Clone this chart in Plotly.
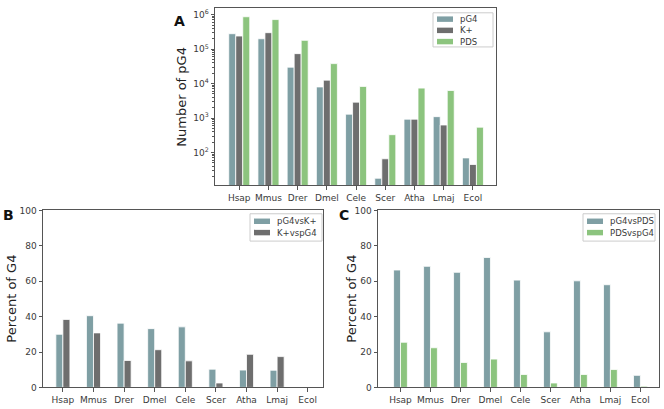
import plotly.graph_objects as go

categories = ["Hsap", "Mmus", "Drer", "Dmel", "Cele", "Scer", "Atha", "Lmaj", "Ecol"]

# Panel A: number of pG4 (log scale)
pg4_counts = [280000, 200000, 30000, 8000, 1300, 18, 930, 1100, 70]
kplus_counts = [240000, 300000, 74000, 12600, 2900, 66, 930, 630, 45]
pds_counts = [870000, 720000, 180000, 38000, 8300, 330, 7400, 6300, 545]

# Panel B: percent overlap pG4 / K+
pg4_vs_k = [30.0, 40.5, 36.3, 33.2, 34.2, 10.3, 9.8, 9.7, 0.0]
k_vs_pg4 = [38.4, 30.8, 15.2, 21.3, 15.0, 2.5, 18.7, 17.4, 0.0]

# Panel C: percent overlap pG4 / PDS
pg4_vs_pds = [66.3, 68.4, 65.0, 73.4, 60.6, 31.4, 60.2, 58.0, 6.8]
pds_vs_pg4 = [25.5, 22.4, 14.1, 16.0, 7.3, 2.5, 7.3, 10.1, 0.7]

legend_a = ["pG4", "K+", "PDS"]
legend_b = ["pG4vsK+", "K+vspG4"]
legend_c = ["pG4vsPDS", "PDSvspG4"]

log_ticks = [100, 1000, 10000, 100000, 1000000]
log_tick_text = ["10<sup>2</sup>", "10<sup>3</sup>", "10<sup>4</sup>", "10<sup>5</sup>", "10<sup>6</sup>"]
pct_ticks = [0, 20, 40, 60, 80, 100]

C_PG4 = "#7F9FA4"
C_K = "#6E6E6E"
C_PDS = "#8CC47E"
FONT = "DejaVu Sans"
TXT = "#3A3A3A"
SPINE = "#555555"

W, H = 664, 409

def px_x(a, b):
    return [a / W, b / W]

def px_y(top, bottom):
    return [1 - bottom / H, 1 - top / H]

fig = go.Figure()

def add_bar(x, y, name, color, xa, ya, width, offset):
    fig.add_trace(go.Bar(
        x=x, y=y, name=name, xaxis=xa, yaxis=ya, width=width, offset=offset,
        marker=dict(color=color, line=dict(color="white", width=0.8)),
        showlegend=False,
    ))

wA = 0.24
add_bar(categories, pg4_counts, legend_a[0], C_PG4, "x", "y", wA, -1.5 * wA)
add_bar(categories, kplus_counts, legend_a[1], C_K, "x", "y", wA, -0.5 * wA)
add_bar(categories, pds_counts, legend_a[2], C_PDS, "x", "y", wA, 0.5 * wA)

wB = 0.23
add_bar(categories, pg4_vs_k, legend_b[0], C_PG4, "x2", "y2", wB, -wB)
add_bar(categories, k_vs_pg4, legend_b[1], C_K, "x2", "y2", wB, 0)
add_bar(categories, pg4_vs_pds, legend_c[0], C_PG4, "x3", "y3", wB, -wB)
add_bar(categories, pds_vs_pg4, legend_c[1], C_PDS, "x3", "y3", wB, 0)

axis_common = dict(
    showline=True, linecolor=SPINE, linewidth=1, mirror=True,
    ticks="outside", ticklen=3.5, tickwidth=0.8, tickcolor=SPINE,
    showgrid=False, zeroline=False, tickangle=0,
    tickfont=dict(family=FONT, size=9, color=TXT),
)

minor_vals = []
for e in range(1, 7):
    for m in range(2, 10):
        minor_vals.append(m * 10 ** e)

fig.update_layout(
    width=W, height=H,
    margin=dict(l=0, r=0, t=0, b=0),
    paper_bgcolor="white", plot_bgcolor="white",
    barmode="overlay", showlegend=False,
    font=dict(family=FONT, color=TXT),
    xaxis=dict(domain=px_x(215, 496), anchor="y", type="category",
               range=[-0.83, 8.79], **axis_common),
    yaxis=dict(domain=px_y(3, 185), anchor="x", type="log",
               range=[1.045, 6.195], tickvals=log_ticks, ticktext=log_tick_text,
               minor=dict(tickvals=minor_vals, ticks="outside", ticklen=2,
                          tickcolor=SPINE, tickwidth=0.6, showgrid=False),
               **axis_common),
    xaxis2=dict(domain=px_x(43, 323), anchor="y2", type="category",
                range=[-0.65, 8.5], **axis_common),
    yaxis2=dict(domain=px_y(210.5, 392), anchor="x2", range=[0, 100],
                tickvals=pct_ticks, **axis_common),
    xaxis3=dict(domain=px_x(378, 659), anchor="y3", type="category",
                range=[-0.75, 8.62], **axis_common),
    yaxis3=dict(domain=px_y(210.5, 392), anchor="x3", range=[0, 100],
                tickvals=pct_ticks, **axis_common),
)

# Manual legends (matplotlib-style flat patches)
def draw_legend(box, names, colors, first_y, step, patch_x, text_x):
    x0, y0, x1, y1 = box
    fig.add_shape(type="rect", xref="paper", yref="paper",
                  x0=x0 / W, x1=x1 / W, y0=1 - y1 / H, y1=1 - y0 / H,
                  line=dict(color="#CCCCCC", width=1), fillcolor="white", layer="above")
    for i, (n, c) in enumerate(zip(names, colors)):
        yc = first_y + i * step
        fig.add_shape(type="rect", xref="paper", yref="paper",
                      x0=patch_x[0] / W, x1=patch_x[1] / W,
                      y0=1 - (yc + 2.8) / H, y1=1 - (yc - 2.8) / H,
                      line=dict(width=0), fillcolor=c, layer="above")
        fig.add_annotation(text=n, x=text_x / W, y=1 - yc / H, xref="paper", yref="paper",
                           showarrow=False, xanchor="left", yanchor="middle",
                           font=dict(family=FONT, size=8.5, color=TXT))

draw_legend((433, 8, 493, 43), legend_a, [C_PG4, C_K, C_PDS], 14.5, 11.5, (437, 453), 458)
draw_legend((250, 214, 322, 242), legend_b, [C_PG4, C_K], 221.7, 11.6, (254, 270), 275)
draw_legend((583, 214, 655, 242), legend_c, [C_PG4, C_PDS], 221.7, 11.6, (587, 603), 608)

annots = [
    dict(text="<b>A</b>", x=179 / W, y=1 - 16 / H, size=14),
    dict(text="<b>B</b>", x=8 / W, y=1 - 215 / H, size=14),
    dict(text="<b>C</b>", x=344 / W, y=1 - 215 / H, size=14),
]
for a in annots:
    fig.add_annotation(text=a["text"], x=a["x"], y=a["y"], xref="paper", yref="paper",
                       showarrow=False, font=dict(family=FONT, size=a["size"], color="#111111"),
                       xanchor="center", yanchor="middle")

titles = [
    ("Number of pG4", 182, 94),
    ("Percent of G4", 12, 301),
    ("Percent of G4", 352, 301),
]
for t, x, y in titles:
    fig.add_annotation(text=t, x=x / W, y=1 - y / H, xref="paper", yref="paper",
                       showarrow=False, textangle=-90,
                       font=dict(family=FONT, size=13, color="#222222"),
                       xanchor="center", yanchor="middle")

fig.write_html(
    "out.html",
    config={"displayModeBar": False},
    post_script="document.body.style.margin='0';document.body.style.padding='0';"
                "document.documentElement.style.overflow='hidden';",
)
